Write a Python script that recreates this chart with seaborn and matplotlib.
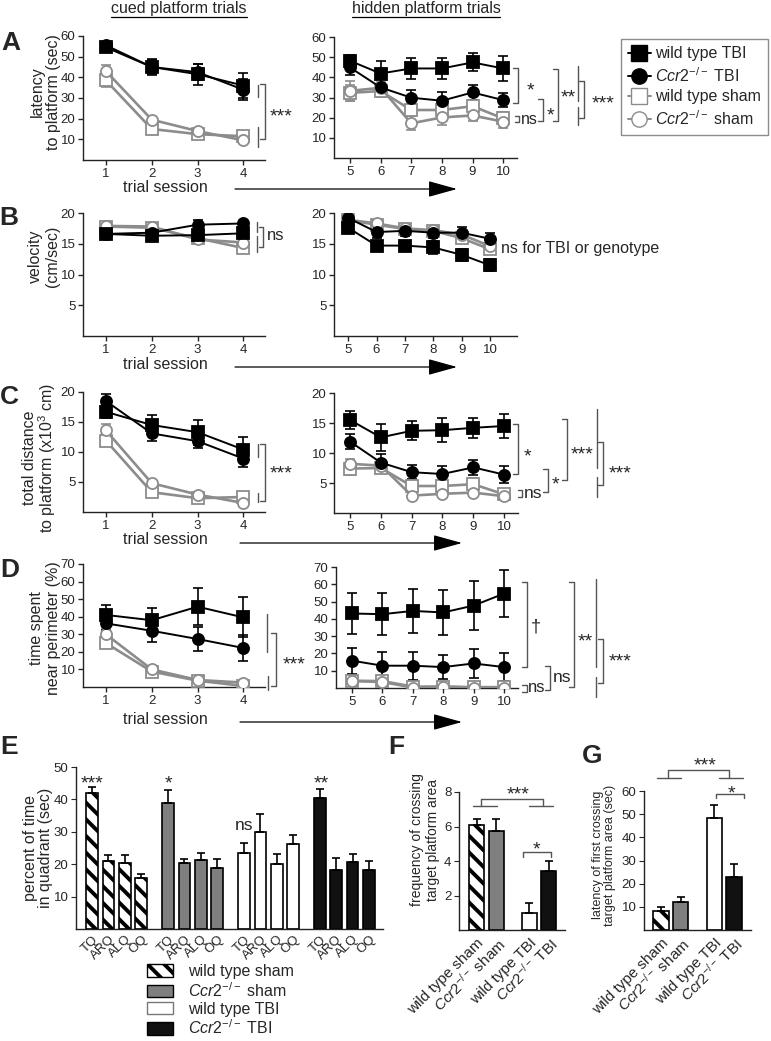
import numpy as np
import pandas as pd
import matplotlib
matplotlib.use("Agg")
import matplotlib.pyplot as plt
import seaborn as sns
from matplotlib.lines import Line2D
from matplotlib.patches import FancyArrowPatch, Patch

W, H = 771, 1041

# --- values ---
cued = [1, 2, 3, 4]
hidden = [5, 6, 7, 8, 9, 10]

lat_cued = {"wt_tbi": [54.5, 45, 41.5, 36], "ccr2_tbi": [55.5, 45, 42.5, 34],
            "wt_sham": [38.5, 15, 12.5, 11.5], "ccr2_sham": [43, 19.5, 14, 9.5]}
lat_cued_err = {"wt_tbi": [1.5, 4, 5, 6], "ccr2_tbi": [1.5, 3.5, 4, 5],
                "wt_sham": [3, 1.5, 1.5, 1.5], "ccr2_sham": [3, 1.5, 1.5, 1.5]}
lat_hid = {"wt_tbi": [48.2, 41.9, 44.4, 44.4, 47.4, 44.4],
           "ccr2_tbi": [44.9, 35, 29.9, 28.4, 32.5, 28.7],
           "wt_sham": [32.3, 33.2, 23.8, 23.8, 25.7, 19.6],
           "ccr2_sham": [33.3, 34.8, 17.2, 20.1, 21.1, 18]}
lat_hid_err = {"wt_tbi": [3, 6, 5, 5, 4.5, 6], "ccr2_tbi": [3.5, 4, 4, 4.5, 3.5, 3.5],
               "wt_sham": [4, 3, 3, 3, 3, 3], "ccr2_sham": [5, 3, 3.5, 3.5, 3, 3]}

vel_cued = {"wt_tbi": [16.6, 16.3, 16.4, 16.7], "ccr2_tbi": [16.6, 16.8, 18.1, 18.3],
            "wt_sham": [17.8, 17.6, 15.9, 14.3], "ccr2_sham": [17.9, 17.8, 15.7, 15.2]}
vel_cued_err = {"wt_tbi": [0.5, 0.4, 0.5, 0.6], "ccr2_tbi": [0.4, 0.5, 0.8, 0.4],
                "wt_sham": [0.4, 0.4, 0.4, 0.6], "ccr2_sham": [0.4, 0.4, 0.4, 0.4]}
vel_hid = {"wt_tbi": [17.6, 14.7, 14.7, 14.4, 13.2, 11.5],
           "ccr2_tbi": [19.2, 16.9, 17.1, 16.8, 16.8, 15.8],
           "wt_sham": [18.8, 18.1, 17.4, 17.1, 15.9, 14.1],
           "ccr2_sham": [18.9, 18.3, 17.5, 17.2, 16.5, 14.6]}
vel_hid_err = {"wt_tbi": [0.8, 0.6, 0.8, 1, 1, 1], "ccr2_tbi": [0.8, 1, 0.8, 0.8, 1, 1],
               "wt_sham": [0.8, 0.6, 0.8, 0.8, 0.8, 0.8], "ccr2_sham": [0.6] * 6}

dist_cued = {"wt_tbi": [16.7, 14.5, 13.3, 10.4], "ccr2_tbi": [18.5, 13.1, 11.8, 8.9],
             "wt_sham": [11.9, 3.3, 2.3, 2.5], "ccr2_sham": [13.6, 4.8, 2.9, 1.5]}
dist_cued_err = {"wt_tbi": [1, 1.7, 2.1, 2.1], "ccr2_tbi": [1.2, 1.3, 1.1, 1.4],
                 "wt_sham": [0.9, 0.4, 0.4, 0.3], "ccr2_sham": [1.1, 0.4, 0.3, 0.3]}
dist_hid = {"wt_tbi": [15.5, 12.6, 13.7, 13.8, 14.2, 14.5],
            "ccr2_tbi": [11.9, 8.4, 6.8, 6.5, 7.6, 6.4],
            "wt_sham": [7.4, 7.5, 4.5, 4.5, 4.8, 3.1],
            "ccr2_sham": [8.2, 7.9, 2.9, 3.2, 3.4, 2.8]}
dist_hid_err = {"wt_tbi": [1.5, 2.2, 1.6, 2, 1.7, 2], "ccr2_tbi": [1.3, 1.5, 1.2, 1.3, 1.2, 1.4],
                "wt_sham": [1.1, 0.8, 0.7, 0.7, 1, 0.5], "ccr2_sham": [0.8, 0.6, 0.5, 0.5, 0.5, 0.4]}

peri_cued = {"wt_tbi": [41, 38, 45.7, 39.6], "ccr2_tbi": [36.2, 32, 27.3, 22.2],
             "wt_sham": [25, 8.8, 3.6, 0.6], "ccr2_sham": [30, 10, 4, 2.5]}
peri_cued_err = {"wt_tbi": [5.5, 6.7, 10.5, 11.4], "ccr2_tbi": [4, 6.2, 7, 7.2],
                 "wt_sham": [2.5, 1.5, 1, 0.6], "ccr2_sham": [3.5, 1.5, 1.2, 1]}
peri_hid = {"wt_tbi": [43.1, 42.7, 44.6, 43.7, 47.7, 54.6],
            "ccr2_tbi": [15.8, 12.9, 12.9, 12.1, 14.2, 12.1],
            "wt_sham": [4.2, 4, 0.8, 0.8, 0.5, 0.5],
            "ccr2_sham": [4, 3.5, 0.2, 0.8, 0.2, 0.2]}
peri_hid_err = {"wt_tbi": [11.9, 12, 12.9, 13.2, 14, 13.5], "ccr2_tbi": [7.5, 7.7, 8, 7, 8.3, 7.9],
                "wt_sham": [1.5, 1.5, 0.5, 0.5, 0.5, 0.5], "ccr2_sham": [1.2, 1.2, 0.4, 0.4, 0.3, 0.3]}

quadrants = ["TQ", "ARQ", "ALQ", "OQ"]
bar_groups = ["wt_sham", "ccr2_sham", "wt_tbi", "ccr2_tbi"]
quad_time = {"wt_sham": [41.9, 21, 20.3, 15.8], "ccr2_sham": [38.8, 20.3, 21.3, 18.9],
             "wt_tbi": [23.4, 29.8, 20, 26.2], "ccr2_tbi": [40.3, 18.2, 20.6, 18.2]}
quad_err = {"wt_sham": [2, 1.8, 2.5, 1.1], "ccr2_sham": [4.1, 1.2, 2.2, 2.6],
            "wt_tbi": [3.2, 5.6, 3, 2.8], "ccr2_tbi": [2.8, 3.7, 2.4, 2.9]}
quad_sig = ["***", "*", "ns", "**"]

cross_freq = [6.07, 5.72, 0.96, 3.41]
cross_freq_err = [0.38, 0.73, 0.58, 0.58]
cross_lat = [8.3, 11.9, 48.3, 23.0]
cross_lat_err = [1.7, 2.4, 5.5, 5.3]

CCR = r"$\mathit{Ccr2}^{-/-}$"
names = {"wt_tbi": "wild type TBI", "ccr2_tbi": CCR + " TBI",
         "wt_sham": "wild type sham", "ccr2_sham": CCR + " sham"}

# --- style ---
sns.set_style("ticks")
plt.rcParams["font.family"] = ["Liberation Sans", "DejaVu Sans"]
plt.rcParams["mathtext.fontset"] = "custom"
plt.rcParams["mathtext.rm"] = "Liberation Sans"
plt.rcParams["mathtext.it"] = "Liberation Sans:italic"
plt.rcParams["axes.linewidth"] = 1.0
plt.rcParams["axes.edgecolor"] = "#222222"
plt.rcParams["hatch.linewidth"] = 2.8

GRAY = "#8c8c8c"
BR = "#555555"
STYLE = {"wt_tbi": ("black", "s", "black"), "ccr2_tbi": ("black", "o", "black"),
         "wt_sham": (GRAY, "s", "white"), "ccr2_sham": (GRAY, "o", "white")}
BAR_FILL = {"wt_sham": "white", "ccr2_sham": "#7f7f7f", "wt_tbi": "white", "ccr2_tbi": "#111111"}

fig = plt.figure(figsize=(W / 100, H / 100), dpi=100)


def add_ax(l, t, r, b):
    return fig.add_axes([l / W, 1 - b / H, (r - l) / W, (b - t) / H])


def L(xs, ys, color=BR, lw=1.0):
    fig.add_artist(Line2D([x / W for x in xs], [1 - y / H for y in ys],
                          transform=fig.transFigure, color=color, lw=lw))


def T(x, y, s, size=11.5, ha="center", va="center", **kw):
    return fig.text(x / W, 1 - y / H, s, fontsize=size, ha=ha, va=va, **kw)


def star(x, y, s, size=14, ha="center"):
    T(x, y + 0.58 * size * 100 / 72, s, size=size, ha=ha, va="baseline")


def bracket(x, y0, y1, tick=5, color=BR):
    L([x - tick, x, x, x - tick], [y0, y0, y1, y1], color)


def hbracket(x0, x1, y, drop):
    L([x0, x0, x1, x1], [y + drop, y, y, y + drop])


def trial_panel(ax, x, vals, errs, xlim, ylim, yticks):
    for g in ["wt_sham", "ccr2_sham", "wt_tbi", "ccr2_tbi"]:
        col, mk, fc = STYLE[g]
        ax.errorbar(x, vals[g], yerr=errs[g], fmt="none", ecolor=col,
                    elinewidth=1.2, capsize=3.5, capthick=1.2, zorder=2)
        d = pd.DataFrame({"session": x, "value": vals[g]})
        sns.lineplot(data=d, x="session", y="value", ax=ax, errorbar=None,
                     color=col, marker=mk, markersize=8, markerfacecolor=fc,
                     markeredgecolor=col, markeredgewidth=1.3,
                     linewidth=1.4 if col == "black" else 1.9, zorder=3)
    ax.set(xlim=xlim, ylim=ylim, xticks=x, yticks=yticks, xlabel="", ylabel="")
    ax.tick_params(labelsize=9.5, length=3.5, width=1, pad=2)
    sns.despine(ax=ax)


HX = (4.48, 10.45)
CX = (0.5, 4.47)
panels = [
    ((83, 36, 265, 160), (334, 37, 517, 158), lat_cued, lat_cued_err, lat_hid, lat_hid_err,
     (0, 60), range(10, 61, 10), HX),
    ((83, 213, 265, 336), (334, 213, 517, 336), vel_cued, vel_cued_err, vel_hid, vel_hid_err,
     (0, 20), [5, 10, 15, 20], (4.5, 10.95)),
    ((83, 392, 265, 512), (334, 393, 518, 513), dist_cued, dist_cued_err, dist_hid, dist_hid_err,
     (0, 20), [5, 10, 15, 20], HX),
    ((83, 564, 265, 687), (336, 567, 518, 688), peri_cued, peri_cued_err, peri_hid, peri_hid_err,
     (0, 70), range(10, 71, 10), (4.47, 10.46)),
]
for rl, rr, vc, ec, vh, eh, yl, yt, hx in panels:
    trial_panel(add_ax(*rl), cued, vc, ec, CX, yl, yt)
    trial_panel(add_ax(*rr), hidden, vh, eh, hx, yl, yt)

# y labels of the trial panels
T(45, 92, "latency\nto platform (sec)", rotation=90, linespacing=1.1)
T(44, 256, "velocity\n(cm/sec)", rotation=90, linespacing=1.1)
T(40, 458, "total distance\nto platform (x10$^3$ cm)", rotation=90, linespacing=1.0)
T(45, 628, "time spent\nnear perimeter (%)", rotation=90, linespacing=1.1)

# titles
rend = fig.canvas.get_renderer()
for s, cx in [("cued platform trials", 179), ("hidden platform trials", 426)]:
    t = T(cx, 8, s)
    bb = t.get_window_extent(renderer=rend)
    fig.add_artist(Line2D([bb.x0 / W, bb.x1 / W], [(bb.y0 - 1.5) / H] * 2,
                          transform=fig.transFigure, color="black", lw=0.9))

# trial session labels and arrows
for ty, ay, ax0, ax1 in [(187, 189, 235, 457), (364, 367, 235, 457),
                         (540, 543, 240, 462), (719, 722, 240, 462)]:
    T(165, ty, "trial session")
    fig.add_artist(FancyArrowPatch((ax0 / W, 1 - ay / H), (ax1 / W, 1 - ay / H),
                                   transform=fig.transFigure, shrinkA=0, shrinkB=0,
                                   arrowstyle="-|>,head_length=1.8,head_width=0.5",
                                   mutation_scale=10, lw=0.9, color="black"))

# legend for the trial panels
handles = [Line2D([], [], color=STYLE[g][0], marker=STYLE[g][1], markerfacecolor=STYLE[g][2],
                  markeredgecolor=STYLE[g][0], markersize=11, lw=1.4) for g in
           ["wt_tbi", "ccr2_tbi", "wt_sham", "ccr2_sham"]]
fig.legend(handles, [names[g] for g in ["wt_tbi", "ccr2_tbi", "wt_sham", "ccr2_sham"]],
           loc="upper left", bbox_to_anchor=(621 / W, 1 - 39 / H), borderaxespad=0,
           fontsize=11.5, handlelength=1.4, handletextpad=0.3, labelspacing=0.3,
           borderpad=0.45, fancybox=False, edgecolor=GRAY, framealpha=1)

# significance marks, panel A
L([258, 258], [85, 97]); L([258, 258], [127, 147])
bracket(265, 84, 139); star(281, 110, "***")
bracket(518, 68, 103); star(527, 84, "*", ha="left")
bracket(519, 116, 122, tick=4); T(521, 119, "ns", ha="left")
bracket(543, 99, 121); star(550, 109, "*")
bracket(558, 69, 121); star(568, 91, "**")
L([578, 578], [66, 101]); L([578, 578], [107, 125])
bracket(584, 81, 118); star(603, 97, "***")
# panel B
L([257, 257], [222, 232]); L([257, 257], [236, 252])
bracket(263, 227, 247, tick=4); T(267, 236, "ns", ha="left", size=12)
T(501, 249, "ns for TBI or genotype", ha="left")
# panel C
L([258, 258], [444, 457]); L([258, 258], [493, 502])
bracket(265, 444, 501); star(281, 467, "***")
bracket(518, 424, 474); star(527, 450, "*")
bracket(522, 490, 497, tick=4); T(524, 493, "ns", ha="left", size=12.5)
bracket(548, 469, 492); star(555, 478, "*")
bracket(567, 419, 480); star(582, 448, "***")
L([597, 597], [409, 468]); L([597, 597], [477, 497])
bracket(603, 442, 485); star(620, 467, "***")
# panel D
L([267, 267], [614, 652]); L([268, 268], [676, 690])
bracket(276, 633, 686); star(294, 658, "***")
bracket(527, 582, 667); T(536, 627, "\u2020", size=13)
bracket(527, 685, 692, tick=5); T(528, 688, "ns", ha="left", size=12)
bracket(550, 666, 690); T(553, 677, "ns", ha="left", size=12.5)
bracket(574, 582, 687); star(585, 635, "**")
L([596, 596], [579, 667]); L([596, 596], [677, 697])
bracket(603, 639, 683); star(620, 655, "***")

# --- panel E: quadrant bars ---
axE = add_ax(76, 767, 383, 929)
xpos = [g * 4.63 + i for g in range(4) for i in range(4)]
dfE = pd.DataFrame({"x": xpos,
                    "value": [v for g in bar_groups for v in quad_time[g]],
                    "group": [g for g in bar_groups for _ in quadrants]})
sns.barplot(data=dfE, x="x", y="value", hue="group", hue_order=bar_groups, palette=BAR_FILL,
            native_scale=True, width=0.71, dodge=False, errorbar=None, legend=False,
            edgecolor="black", linewidth=1.2, ax=axE)
for p in axE.containers[0]:
    p.set_hatch("\\\\")
axE.errorbar(xpos, dfE["value"], yerr=[np.zeros(16), [e for g in bar_groups for e in quad_err[g]]],
             fmt="none", ecolor="black", elinewidth=1.2, capsize=3, capthick=1.2, zorder=3)
axE.set(xlim=(-0.98, 17.74), ylim=(0, 50), yticks=range(10, 51, 10), xlabel="", ylabel="")
axE.set_xticks(xpos, quadrants * 4, rotation=45, ha="right", rotation_mode="anchor", fontsize=9.5)
axE.tick_params(axis="x", length=0, pad=3)
axE.tick_params(axis="y", labelsize=9.5, length=3.5, pad=2)
sns.despine(ax=axE)
for gi, s in enumerate(quad_sig):
    if s == "ns":
        T(92 + gi * 76, 826, s, size=12.5)
    else:
        star(92 + gi * 76.3, 777, s)
T(38, 848, "percent of time\nin quadrant (sec)", rotation=90, linespacing=1.02)

leg_handles = [Patch(facecolor=BAR_FILL[g], edgecolor="black" if g != "wt_tbi" else "#777777",
                     hatch="\\\\" if g == "wt_sham" else None, lw=1) for g in bar_groups]
fig.legend(leg_handles, [names[g] for g in bar_groups], loc="upper left",
           bbox_to_anchor=(147 / W, 1 - 964 / H), borderaxespad=0, borderpad=0,
           frameon=False, fontsize=11.5, handlelength=1.65, handleheight=0.8,
           handletextpad=0.9, labelspacing=0.12)

# --- panels F and G ---
fg_pos = [0, 1, 2.7, 3.7]
fg_labels = [names[g] for g in bar_groups]


def summary_bars(ax, vals, errs, xlim, ylim, yticks):
    d = pd.DataFrame({"x": fg_pos, "value": vals, "group": bar_groups})
    sns.barplot(data=d, x="x", y="value", hue="group", hue_order=bar_groups, palette=BAR_FILL,
                native_scale=True, width=0.77, dodge=False, errorbar=None, legend=False,
                edgecolor="black", linewidth=1.2, ax=ax)
    for p in ax.containers[0]:
        p.set_hatch("\\\\")
    ax.errorbar(fg_pos, vals, yerr=[np.zeros(4), errs], fmt="none", ecolor="black",
                elinewidth=1.2, capsize=3, capthick=1.2, zorder=3)
    ax.set(xlim=xlim, ylim=ylim, yticks=yticks, xlabel="", ylabel="")
    ax.set_xticks(fg_pos, fg_labels, rotation=45, ha="right", rotation_mode="anchor", fontsize=11)
    ax.tick_params(axis="x", length=0, pad=4)
    ax.tick_params(axis="y", labelsize=9.5, length=3.5, pad=2)
    sns.despine(ax=ax)


summary_bars(add_ax(459, 792, 565, 930), cross_freq, cross_freq_err, (-0.9, 4.54), (0, 8), [2, 4, 6, 8])
summary_bars(add_ax(644, 791, 751, 930), cross_lat, cross_lat_err, (-0.86, 4.56), (0, 60), range(10, 61, 10))
T(425, 840, "frequency of crossing\ntarget platform area", rotation=90, size=10, linespacing=1.1)
T(604, 855, "latency of first crossing\ntarget platform area (sec)", rotation=90, size=9, linespacing=1.1)

star(518, 788, "***"); hbracket(481, 543, 799, 7)
L([473, 497], [806, 806]); L([529, 553], [806, 806])
star(536, 843, "*"); hbracket(523, 551, 852, 5)
star(705, 759, "***"); hbracket(668, 729, 770, 8)
L([657, 681], [778, 778]); L([719, 743], [778, 778])
star(731, 787, "*"); hbracket(716, 744, 794, 4)

# panel letters
for s, x, y in [("A", 11, 43), ("B", 9, 218), ("C", 9, 397), ("D", 10, 570),
                ("E", 9, 747), ("F", 396, 747), ("G", 592, 756)]:
    T(x, y, s, size=19, fontweight="bold")

fig.savefig("out.png", dpi=100)
